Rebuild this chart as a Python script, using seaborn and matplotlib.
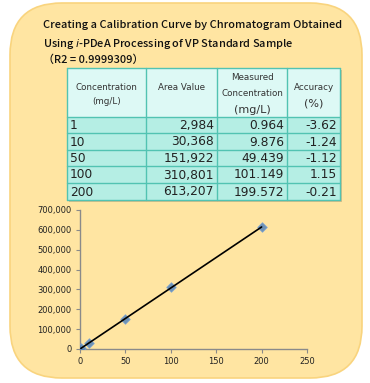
import matplotlib
matplotlib.use("Agg")
import matplotlib.pyplot as plt
import seaborn as sns
import pandas as pd
from matplotlib.patches import FancyBboxPatch, Rectangle
from matplotlib.ticker import FuncFormatter, MultipleLocator

# ---- data ----
concentration = [1, 10, 50, 100, 200]
area_value = [2984, 30368, 151922, 310801, 613207]
measured_conc = ["0.964", "9.876", "49.439", "101.149", "199.572"]
accuracy = ["-3.62", "-1.24", "-1.12", "1.15", "-0.21"]
title_lines = ["Creating a Calibration Curve by Chromatogram Obtained",
               "Using $\\it{i}$-PDeA Processing of VP Standard Sample",
               "（R2 = 0.9999309）"]

df = pd.DataFrame({"conc": concentration, "area": area_value})

sns.set_theme(style="white")
plt.rcParams['font.family'] = ['DejaVu Sans']

W, H = 370, 383
fig = plt.figure(figsize=(W / 100, H / 100), dpi=100)
fig.patch.set_facecolor("white")

# overlay axes in pixel coordinates
ov = fig.add_axes([0, 0, 1, 1])
ov.set_xlim(0, W)
ov.set_ylim(H, 0)
ov.axis("off")

bg = FancyBboxPatch((10, 3), 352, 375, boxstyle="round,pad=0,rounding_size=52",
                    facecolor="#FFE5A2", edgecolor="#F9D47E", linewidth=1.2)
ov.add_patch(bg)

# title
title_font = ['Noto Sans CJK JP', 'DejaVu Sans']
ty = [25, 44, 60]
for t, y in zip(title_lines, ty):
    ov.text(43, y, t, fontsize=7.9, family=title_font, fontweight='medium',
            color="#111111", va="center", ha="left")

# table
cols = [67, 146, 217, 287, 340]
rows = [68, 117, 133, 150, 166, 183, 200]
border = "#52C3B2"
# shadow
ov.add_patch(Rectangle((cols[0] + 2, rows[0] + 2), cols[-1] - cols[0], rows[-1] - rows[0],
                       facecolor="#D5BF88", edgecolor="none", zorder=2))
ov.add_patch(Rectangle((cols[0], rows[0]), cols[-1] - cols[0], rows[1] - rows[0],
                       facecolor="#DDF9F5", edgecolor="none", zorder=3))
ov.add_patch(Rectangle((cols[0], rows[1]), cols[-1] - cols[0], rows[-1] - rows[1],
                       facecolor="#B5EEE4", edgecolor="none", zorder=3))
for x in cols:
    ov.plot([x, x], [rows[0], rows[-1]], color=border, lw=1.0, zorder=4)
for y in rows:
    ov.plot([cols[0], cols[-1]], [y, y], color=border, lw=1.0, zorder=4)

hdr = dict(color="#333333", ha="center", va="center", zorder=5)
ov.text((cols[0] + cols[1]) / 2, 88, "Concentration", fontsize=6.3, **hdr)
ov.text((cols[0] + cols[1]) / 2, 102, "(mg/L)", fontsize=6.3, **hdr)
ov.text((cols[1] + cols[2]) / 2, 87, "Area Value", fontsize=6.3, **hdr)
ov.text((cols[2] + cols[3]) / 2, 78, "Measured", fontsize=6.3, **hdr)
ov.text((cols[2] + cols[3]) / 2, 94, "Concentration", fontsize=6.3, **hdr)
ov.text((cols[2] + cols[3]) / 2, 110, "(mg/L)", fontsize=8, **hdr)
ov.text((cols[3] + cols[4]) / 2, 87, "Accuracy", fontsize=6.3, **hdr)
ov.text((cols[3] + cols[4]) / 2, 103, "(%)", fontsize=8, **hdr)

cell = dict(color="#222222", va="center", fontsize=8.8, zorder=5)
for i in range(len(concentration)):
    yc = (rows[i + 1] + rows[i + 2]) / 2 + 0.5
    ov.text(cols[0] + 3, yc, str(concentration[i]), ha="left", **cell)
    ov.text(cols[2] - 3, yc, f"{area_value[i]:,}", ha="right", **cell)
    ov.text(cols[3] - 3, yc, measured_conc[i], ha="right", **cell)
    ov.text(cols[4] - 3, yc, accuracy[i], ha="right", **cell)

# plot
ax = fig.add_axes([80 / W, 1 - 349 / H, (307 - 80) / W, (349 - 210) / H])
ax.set_facecolor("none")
sns.regplot(data=df, x="conc", y="area", ax=ax, ci=None, marker="D",
            scatter_kws=dict(s=24, color="#4A7EBB", edgecolors="#7AA3D6",
                             linewidths=0.6, zorder=3),
            line_kws=dict(color="black", lw=1.2, zorder=4))
ax.set_xlim(0, 250)
ax.set_ylim(0, 700000)
ax.xaxis.set_major_locator(MultipleLocator(50))
ax.yaxis.set_major_locator(MultipleLocator(100000))
ax.yaxis.set_major_formatter(FuncFormatter(lambda v, p: f"{v:,.0f}"))
ax.set_xlabel("")
ax.set_ylabel("")
for s in ["top", "right"]:
    ax.spines[s].set_visible(False)
for s in ["left", "bottom"]:
    ax.spines[s].set_color("#8A8A8A")
    ax.spines[s].set_linewidth(1.0)
ax.tick_params(axis="both", which="both", length=3, width=0.8, color="#8A8A8A",
               labelsize=6, labelcolor="#222222", pad=3, direction="out",
               left=True, bottom=True)
ax.grid(False)

fig.savefig("out.png", dpi=100, facecolor="white")
